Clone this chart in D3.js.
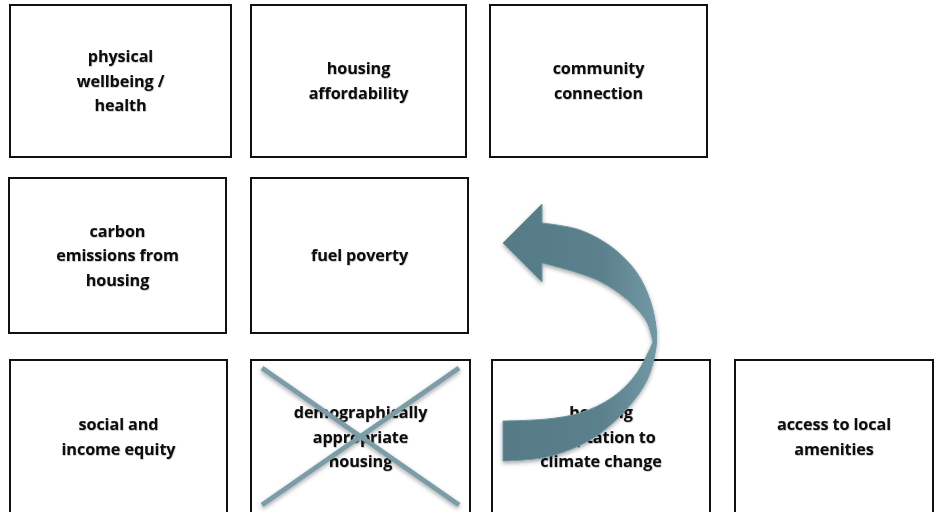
<!DOCTYPE html>
<html>
<head>
<meta charset="utf-8">
<script src="https://cdn.jsdelivr.net/npm/d3@7"></script>
<style>
  body { margin: 0; background: #fff; }
  svg { display: block; }
</style>
</head>
<body>
<svg id="chart"></svg>
<script>
// box labels per row (lines split by \n)
var row1Labels = ['physical\nwellbeing /\nhealth', 'housing\naffordability', 'community\nconnection'];
var row2Labels = ['carbon\nemissions from\nhousing', 'fuel poverty'];
var row3Labels = ['social and\nincome equity', 'demographically\nappropriate\nhousing', 'housing\nadaptation to\nclimate change', 'access to local\namenities'];

// box edges [left, right] per row, and row [top, bottom]
var row1Edges = [[10, 231], [251, 466], [490, 707]];
var row2Edges = [[9, 226], [251, 468]];
var row3Edges = [[10, 227], [251, 470], [492, 710], [735, 933]];
var rowSpans = [[5, 157], [178, 333], [360, 515]];

// index of the crossed-out box in row 3
var crossedBox = 1;

// curved arrow outline
var arrowHead = [[542, 223], [542, 204], [503, 243], [542, 282], [542, 263]];
var arrowInnerUp = [[542, 263], [597, 280], [630, 302], [647, 322], [653, 342]];
var arrowInnerDown = [[653, 342], [637, 373], [613, 397], [580, 413], [547, 419], [503, 421]];
var arrowOuter = [[503, 461], [547, 457], [590, 440], [623, 413], [647, 380], [656, 347], [656, 327], [650, 300], [637, 273], [613, 248], [580, 230], [542, 223]];

var width = 936, height = 512;

var svg = d3.select('#chart')
    .attr('width', width)
    .attr('height', height);

var defs = svg.append('defs');

var shadow = defs.append('filter')
    .attr('id', 'shadow')
    .attr('x', '-20%').attr('y', '-20%')
    .attr('width', '140%').attr('height', '140%');
shadow.append('feDropShadow')
    .attr('dx', 0).attr('dy', 2)
    .attr('stdDeviation', 2)
    .attr('flood-color', '#000')
    .attr('flood-opacity', 0.35);

var textShadow = defs.append('filter').attr('id', 'tshadow');
textShadow.append('feDropShadow')
    .attr('dx', 0.5).attr('dy', 0.7)
    .attr('stdDeviation', 0.5)
    .attr('flood-color', '#000')
    .attr('flood-opacity', 0.3);

var grad = defs.append('linearGradient')
    .attr('id', 'arrowGrad')
    .attr('x1', '0%').attr('y1', '0%')
    .attr('x2', '100%').attr('y2', '0%');
grad.append('stop').attr('offset', '0%').attr('stop-color', '#557a86');
grad.append('stop').attr('offset', '65%').attr('stop-color', '#5b818d');
grad.append('stop').attr('offset', '100%').attr('stop-color', '#7199a5');

// flatten rows into one list of boxes
var rows = [row1Labels, row2Labels, row3Labels];
var edges = [row1Edges, row2Edges, row3Edges];
var boxes = [];
rows.forEach(function(labels, r) {
    labels.forEach(function(label, i) {
        boxes.push({ row: r, col: i, label: label, x0: edges[r][i][0], x1: edges[r][i][1], y0: rowSpans[r][0], y1: rowSpans[r][1] });
    });
});

var boxG = svg.append('g');

boxG.selectAll('rect')
    .data(boxes)
    .join('rect')
    .attr('x', d => d.x0)
    .attr('y', d => d.y0)
    .attr('width', d => d.x1 - d.x0)
    .attr('height', d => d.y1 - d.y0)
    .attr('fill', '#fff')
    .attr('stroke', '#111')
    .attr('stroke-width', 2);

var lineHeight = 24.5;

boxG.selectAll('text')
    .data(boxes)
    .join('text')
    .attr('text-anchor', 'middle')
    .attr('font-family', '"Open Sans", sans-serif')
    .attr('font-weight', 'bold')
    .attr('font-size', '16.2px')
    .attr('letter-spacing', '-0.1px')
    .attr('fill', '#0a0a0a')
    .attr('filter', 'url(#tshadow)')
    .each(function(d) {
        var lines = d.label.split('\n');
        var cx = (d.x0 + d.x1) / 2;
        var cy = d.row === 2 ? 437 : (d.y0 + d.y1) / 2;
        var startY = cy - (lines.length - 1) * lineHeight / 2;
        d3.select(this).selectAll('tspan')
            .data(lines)
            .join('tspan')
            .attr('x', cx)
            .attr('y', (l, i) => startY + i * lineHeight)
            .attr('dy', '0.35em')
            .text(l => l);
    });

// cross over the crossed-out box
var cb = boxes.filter(d => d.row === 2 && d.col === crossedBox)[0];
var crossPad = { x: 11, top: 8, bottom: 10 };
var crossLines = [
    [[cb.x0 + crossPad.x, cb.y0 + crossPad.top], [cb.x1 - crossPad.x, cb.y1 - crossPad.bottom]],
    [[cb.x1 - crossPad.x, cb.y0 + crossPad.top], [cb.x0 + crossPad.x, cb.y1 - crossPad.bottom]]
];
svg.append('g')
    .attr('filter', 'url(#shadow)')
    .selectAll('line')
    .data(crossLines)
    .join('line')
    .attr('x1', d => d[0][0]).attr('y1', d => d[0][1])
    .attr('x2', d => d[1][0]).attr('y2', d => d[1][1])
    .attr('stroke', '#7b9ca7')
    .attr('stroke-width', 5);

// curved arrow
var curve = d3.line().curve(d3.curveCatmullRom.alpha(0.5));
var straight = d3.line();
function cont(path) { return 'L' + path.slice(1); }

var arrowPath = straight(arrowHead) +
    cont(curve(arrowInnerUp)) +
    cont(curve(arrowInnerDown)) +
    cont(straight([arrowInnerDown[arrowInnerDown.length - 1], arrowOuter[0]])) +
    cont(curve(arrowOuter)) + 'Z';

svg.append('path')
    .attr('d', arrowPath)
    .attr('fill', 'url(#arrowGrad)')
    .attr('stroke', '#6f96a2')
    .attr('stroke-width', 1)
    .attr('filter', 'url(#shadow)');
</script>
</body>
</html>
